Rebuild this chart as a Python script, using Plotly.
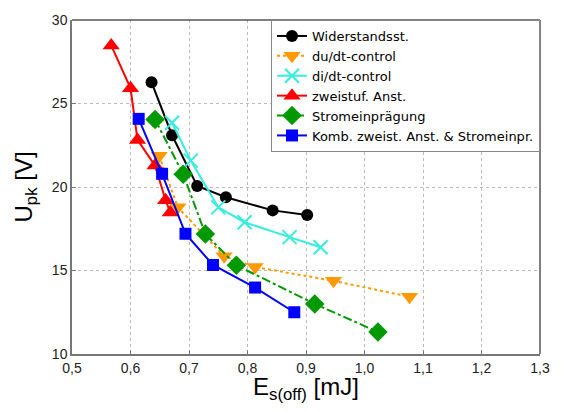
import plotly.graph_objects as go

# Data
wid_x = [0.636, 0.671, 0.714, 0.763, 0.843, 0.902]
wid_y = [26.27, 23.10, 20.06, 19.39, 18.60, 18.32]

dudt_x = [0.649, 0.681, 0.760, 0.813, 0.947, 1.077]
dudt_y = [21.87, 18.78, 15.86, 15.21, 14.38, 13.43]

didt_x = [0.671, 0.703, 0.750, 0.795, 0.872, 0.925]
didt_y = [23.85, 21.58, 18.78, 17.89, 17.00, 16.39]

zw_x = [0.567, 0.600, 0.612, 0.642, 0.660, 0.668]
zw_y = [28.48, 25.92, 22.82, 21.28, 19.21, 18.48]

st_x = [0.642, 0.690, 0.728, 0.781, 0.915, 1.023]
st_y = [24.04, 20.77, 17.18, 15.31, 13.00, 11.32]

kb_x = [0.614, 0.654, 0.694, 0.741, 0.813, 0.880]
kb_y = [24.08, 20.79, 17.20, 15.33, 13.98, 12.50]

x_ticks = [0.5, 0.6, 0.7, 0.8, 0.9, 1.0, 1.1, 1.2, 1.3]
y_ticks = [10, 15, 20, 25, 30]

FONT = "Liberation Sans, Arial, sans-serif"
LFONT = "DejaVu Sans, sans-serif"

series = [
    ("Widerstandsst.", wid_x, wid_y, "black", "solid", "circle", 12),
    ("du/dt-control", dudt_x, dudt_y, "#FF9900", "dot", "triangle-down", 15),
    ("di/dt-control", didt_x, didt_y, "#33EEDD", "solid", "x-thin-open", 14),
    ("zweistuf. Anst.", zw_x, zw_y, "red", "solid", "triangle-up", 15),
    ("Stromeinprägung", st_x, st_y, "#009900", "dashdot", "diamond", 15),
    ("Komb. zweist. Anst. & Stromeinpr.", kb_x, kb_y, "blue", "solid", "square", 12),
]

fig = go.Figure()
for name, xs, ys, col, dash, sym, sz in series:
    marker = dict(symbol=sym, size=sz, color=col)
    if sym == "x-thin-open":
        marker["line"] = dict(color=col, width=2)
    fig.add_trace(go.Scatter(
        x=xs, y=ys, name=name, mode="lines+markers",
        line=dict(color=col, width=2, dash=dash),
        marker=marker,
    ))

fig.update_layout(
    width=562, height=412,
    margin=dict(l=72, r=12, t=16, b=58),
    plot_bgcolor="white", paper_bgcolor="white",
    separators=",.",
    font=dict(family=FONT, size=14, color="#222"),
    showlegend=True,
    legend=dict(
        x=1.0, y=1.0, xanchor="right", yanchor="top",
        bgcolor="white", bordercolor="#888", borderwidth=1,
        font=dict(family=LFONT, size=13, color="black"),
        itemwidth=30, tracegroupgap=0,
    ),
    xaxis=dict(
        range=[0.5, 1.3], tickvals=x_ticks, tickformat=".1f",
        tickfont=dict(family=FONT, size=14, color="#222"),
        showgrid=True, gridcolor="#bbb", griddash="dot", gridwidth=1,
        showline=True, linecolor="#777", linewidth=1.5,
        ticks="inside", ticklen=4, tickcolor="#777",
        zeroline=False,
    ),
    yaxis=dict(
        range=[10, 30], tickvals=y_ticks,
        tickfont=dict(family=FONT, size=14, color="#222"),
        showgrid=True, gridcolor="#bbb", griddash="dot", gridwidth=1,
        showline=True, linecolor="#777", linewidth=1.5,
        ticks="inside", ticklen=4, tickcolor="#777",
        zeroline=False,
    ),
    annotations=[
        dict(text="E<sub>s(off)</sub> [mJ]", xref="paper", yref="paper",
             x=0.5, y=0, xanchor="center", yanchor="top", yshift=-17,
             showarrow=False, font=dict(family=FONT, size=24, color="black")),
        dict(text="U<sub>pk</sub> [V]", xref="paper", yref="paper",
             x=0, y=0.5, xanchor="right", yanchor="middle", xshift=-30,
             textangle=-90,
             showarrow=False, font=dict(family=FONT, size=24, color="black")),
    ],
)
# top and right frame lines
fig.add_shape(type="line", xref="paper", yref="paper", x0=0, x1=1, y0=1, y1=1,
              line=dict(color="black", width=1))
fig.add_shape(type="line", xref="paper", yref="paper", x0=1, x1=1, y0=0, y1=1,
              line=dict(color="black", width=1))

fig.write_html("out.html", config={"displayModeBar": False},
               post_script="document.body.style.margin='0';document.body.style.padding='0';")
